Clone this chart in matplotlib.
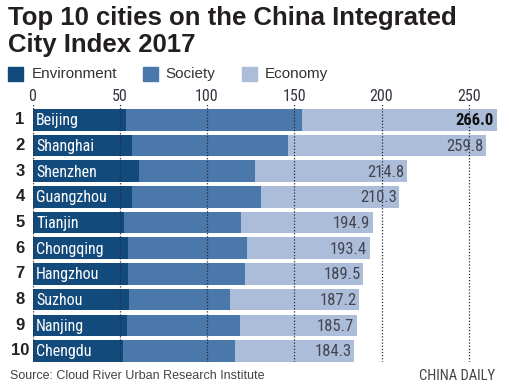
import matplotlib
matplotlib.use("Agg")
import matplotlib.pyplot as plt
from matplotlib import font_manager
from matplotlib.patches import Rectangle
import numpy as np

names = {f.name for f in font_manager.fontManager.ttflist}
def pick(*cands):
    for c in cands:
        if c in names:
            return c
    return "DejaVu Sans"

NARROW = pick("Liberation Sans Narrow", "Roboto Condensed", "Open Sans Condensed", "Liberation Sans")
SANS = pick("Liberation Sans", "Roboto", "DejaVu Sans")
TITLEF = pick("Liberation Sans", "Roboto", "DejaVu Sans")

cities = ["Beijing", "Shanghai", "Shenzhen", "Guangzhou", "Tianjin",
          "Chongqing", "Hangzhou", "Suzhou", "Nanjing", "Chengdu"]
environment = [53.8, 56.9, 60.9, 56.9, 52.3, 54.6, 54.6, 55.1, 54.0, 51.7]
society = [100.6, 89.7, 66.8, 74.2, 67.4, 68.5, 67.4, 58.3, 65.1, 64.6]
totals = [266.0, 259.8, 214.8, 210.3, 194.9, 193.4, 189.5, 187.2, 185.7, 184.3]
economy = [t - e - s for t, e, s in zip(totals, environment, society)]
ticks = [0, 50, 100, 150, 200, 250]
series_names = ["Environment", "Society", "Economy"]
colors = ["#134a7c", "#4a78aa", "#abbdd8"]

W, H = 509, 384
fig = plt.figure(figsize=(W / 100, H / 100), dpi=100)

x0_px, scale = 32.5, 1.745
xmax = 270
ax_top_px, ax_bot_px = 104, 362
ax = fig.add_axes([x0_px / W, 1 - ax_bot_px / H, xmax * scale / W, (ax_bot_px - ax_top_px) / H])
ax.set_xlim(0, xmax)
ax.set_ylim(9.43, -0.62)
ax.axis("off")

y = np.arange(len(cities))
h = 0.84
env = np.array(environment)
soc = np.array(society)
eco = np.array(economy)
ax.barh(y, env, height=h, color=colors[0], zorder=1)
ax.barh(y, soc, left=env, height=h, color=colors[1], zorder=1)
ax.barh(y, eco, left=env + soc, height=h, color=colors[2], zorder=1)

for t in ticks:
    ax.axvline(t, ymin=0, ymax=1, color="#2a2a35", linestyle=(0, (1, 1.5)), linewidth=0.9, zorder=3)
    ax.text(t, -0.62, str(t), ha="center", va="bottom", fontsize=11.5, color="#333340",
            family=NARROW, clip_on=False)

for i, (c, tot) in enumerate(zip(cities, totals)):
    ax.text(-7.1, i, str(i + 1), ha="center", va="center", fontsize=12, fontweight="bold",
            color="#222222", family=SANS, clip_on=False)
    ax.text(2.0, i + 0.03, c, ha="left", va="center", fontsize=11.5, color="white",
            family=NARROW, zorder=4)
    bold = i == 0
    ax.text(tot - 1.5, i + 0.03, f"{tot:.1f}", ha="right", va="center",
            fontsize=12, fontweight="bold" if bold else "normal",
            color="#111111" if bold else "#444452", family=NARROW, zorder=4)

# Title
fig.text(8 / W, 1 - 6 / H, "Top 10 cities on the China Integrated\nCity Index 2017",
         ha="left", va="top", fontsize=18.5, fontweight="bold", color="#231f20",
         family=TITLEF, linespacing=1.15)

# Legend
leg = [(8, 32), (143, 165), (242, 265)]
for (sx, tx), name, col in zip(leg, series_names, colors):
    fig.patches.append(Rectangle((sx / W, 1 - 81 / H), 15 / W, 14 / H,
                                 transform=fig.transFigure, color=col, figure=fig))
    fig.text(tx / W, 1 - 74 / H, name, ha="left", va="center", fontsize=11,
             color="#333333", family=SANS)

fig.text(10 / W, 1 - 376 / H, "Source: Cloud River Urban Research Institute", ha="left",
         va="center", fontsize=9, color="#444444", family=SANS)
fig.text(495 / W, 1 - 376 / H, "CHINA DAILY", ha="right", va="center", fontsize=10.5,
         color="#444444", family=NARROW)

fig.savefig("out.png", dpi=100)
